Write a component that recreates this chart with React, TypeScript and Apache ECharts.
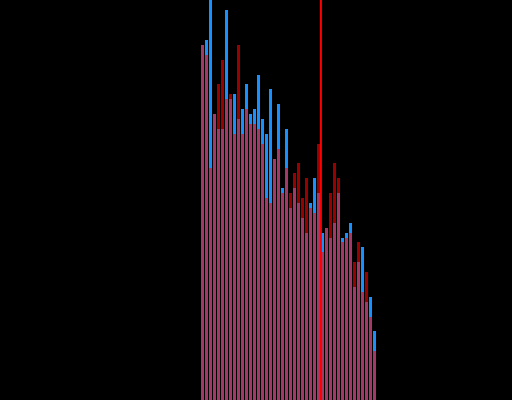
import React, { useEffect, useRef } from "react";
import * as echarts from "echarts";

const categories: string[] = Array.from({ length: 44 }, (_, i) => String(i + 1));

const blueValues: number[] = [
  355, 360, 400, 286, 271, 271, 390, 301, 306, 281, 291,
  316, 286, 291, 325, 281, 266, 311, 241, 296, 212, 271,
  192, 212, 197, 182, 167, 197, 222, 207, 167, 172, 162,
  177, 207, 162, 167, 177, 113, 138, 153, 98, 103, 69,
];

const redValues: number[] = [
  355, 345, 232, 286, 316, 340, 301, 306, 266, 355, 266,
  291, 276, 276, 271, 256, 202, 197, 241, 251, 207, 232,
  207, 227, 237, 202, 222, 192, 187, 256, 148, 172, 207,
  237, 222, 158, 162, 167, 138, 158, 108, 128, 83, 49,
];

const markerPosition: number[] = [30.1];

export default function App() {
  const ref = useRef<HTMLDivElement>(null);

  useEffect(() => {
    document.body.style.margin = "0";
    if (!ref.current) return;
    const chart = echarts.init(ref.current, undefined, { renderer: "svg" });
    chart.setOption({
      animation: false,
      backgroundColor: "#000000",
      grid: { left: 200.5, top: 0, width: 176, height: 400 },
      xAxis: [
        {
          type: "category",
          data: categories,
          show: false,
          boundaryGap: true,
        },
        {
          type: "value",
          min: 0,
          max: categories.length,
          show: false,
          splitLine: { show: false },
        },
      ],
      yAxis: {
        type: "value",
        min: 0,
        max: 400,
        show: false,
        splitLine: { show: false },
      },
      series: [
        {
          type: "bar",
          data: blueValues,
          barWidth: 3,
          barGap: "-100%",
          itemStyle: { color: "#1890ff" },
        },
        {
          type: "bar",
          data: redValues,
          barWidth: 3,
          barGap: "-100%",
          itemStyle: { color: "#ff0000", opacity: 0.6 },
        },
        {
          type: "line",
          xAxisIndex: 1,
          data: [
            [markerPosition[0], 0],
            [markerPosition[0], 400],
          ],
          symbol: "none",
          lineStyle: { color: "#ff0000", width: 2 },
          z: 5,
        },
      ],
    });
    return () => chart.dispose();
  }, []);

  return <div ref={ref} style={{ width: 512, height: 400 }} />;
}
